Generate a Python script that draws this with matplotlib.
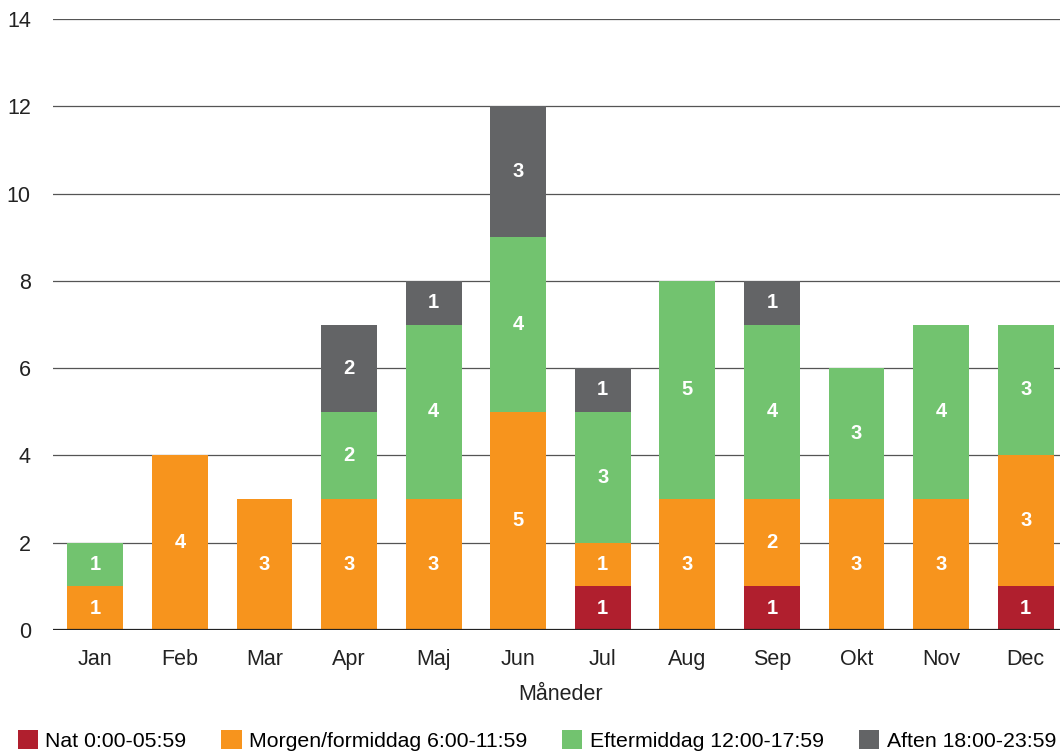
import numpy as np
import matplotlib
matplotlib.use('Agg')
from matplotlib import pyplot as plt
from matplotlib.patches import Patch

months = ['Jan', 'Feb', 'Mar', 'Apr', 'Maj', 'Jun', 'Jul', 'Aug', 'Sep', 'Okt', 'Nov', 'Dec']

nat = [0, 0, 0, 0, 0, 0, 1, 0, 1, 0, 0, 1]
morgen = [1, 4, 3, 3, 3, 5, 1, 3, 2, 3, 3, 3]
eftermiddag = [1, 0, 0, 2, 4, 4, 3, 5, 4, 3, 4, 3]
aften = [0, 0, 0, 2, 1, 3, 1, 0, 1, 0, 0, 0]

series = [
    ('Nat 0:00-05:59', nat, '#b01f2e'),
    ('Morgen/formiddag 6:00-11:59', morgen, '#f7941d'),
    ('Eftermiddag 12:00-17:59', eftermiddag, '#72c36f'),
    ('Aften 18:00-23:59', aften, '#636466'),
]

plt.rcParams['font.family'] = ['Liberation Sans', 'DejaVu Sans']

fig = plt.figure(figsize=(10.6, 7.51), dpi=100)
ax = fig.add_axes([53 / 1060, 121 / 751, 1015 / 1060, 611 / 751])

x = np.arange(len(months))
bottom = np.zeros(len(months))
for label, vals, color in series:
    vals = np.array(vals, dtype=float)
    ax.bar(x, vals, bottom=bottom, width=0.66, color=color, zorder=2, label=label)
    for xi, v, b in zip(x, vals, bottom):
        if v > 0:
            ax.text(xi, b + v / 2, f'{int(v)}', ha='center', va='center',
                    color='white', fontsize=14.5, fontweight='bold', zorder=3)
    bottom += vals

ax.set_xlim(-0.5, 11.5)
ax.set_ylim(0, 14)
ax.set_yticks(range(0, 15, 2))
ax.yaxis.grid(True, color='#555555', linewidth=0.9, zorder=0)
ax.set_axisbelow(True)
for s in ['top', 'right', 'left', 'bottom']:
    ax.spines[s].set_visible(False)
ax.axhline(0, color='#222222', linewidth=1.6, zorder=4)
ax.tick_params(axis='both', length=0, labelsize=15.5, colors='#222222')
ax.tick_params(axis='y', pad=16)
ax.tick_params(axis='x', pad=14)
ax.set_xticks(x)
ax.set_xticklabels(months)
ax.set_xlabel('Måneder', fontsize=15.5, color='#222222', labelpad=10)

handles = [Patch(facecolor=c, label=l) for l, _, c in series]
fig.legend(handles=handles, loc='lower left', bbox_to_anchor=(0.0085, -0.011), ncol=4,
           frameon=False, fontsize=15.3, handlelength=0.95, handleheight=0.95,
           handletextpad=0.35, columnspacing=1.65, borderaxespad=0)

fig.savefig('out.png', dpi=100)
